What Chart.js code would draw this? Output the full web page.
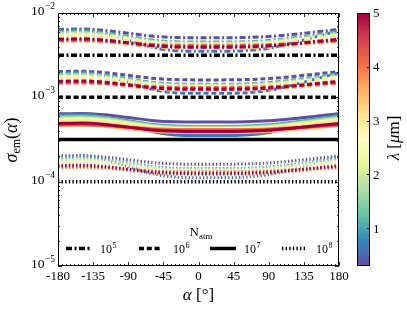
<!DOCTYPE html>
<html><head><meta charset="utf-8">
<script src="https://cdn.jsdelivr.net/npm/chart.js@4"></script>
<style>html,body{margin:0;padding:0;background:#fff}#wrap{width:407px;height:310px;position:relative}</style>
</head><body><div id="wrap"><canvas id="c" width="407" height="310"></canvas></div>
<script>
// ---- data ----
const alphaDeg = [-180,-150,-120,-90,-60,-30,0,30,60,90,120,150,180];
const wavelengths = [0.3,0.6,1.0,1.5,2.0,2.5,3.0,3.5,4.0,4.5,5.0];
const nAtmExponents = [5,6,7,8];
const refLevel = [3.16e-3, 1e-3, 3.16e-4, 1e-4];   // black reference lines, one per N_atm
// excess of sigma_em over the reference line, in decades, one array per wavelength
const excess03 = [.305,.310,.293,.261,.227,.210,.207,.207,.210,.222,.246,.276,.305];
const excess06 = [.290,.302,.261,.181,.096,.054,.047,.047,.054,.083,.144,.217,.290];
const excess10 = [.280,.286,.265,.224,.180,.159,.155,.155,.159,.174,.205,.243,.280];
const excess15 = [.265,.271,.251,.211,.169,.149,.145,.145,.149,.163,.193,.229,.265];
const excess20 = [.250,.256,.237,.200,.160,.141,.138,.138,.141,.155,.183,.216,.250];
const excess25 = [.235,.240,.222,.188,.151,.133,.130,.130,.133,.146,.172,.204,.235];
const excess30 = [.220,.225,.209,.177,.144,.128,.125,.125,.128,.139,.163,.192,.220];
const excess35 = [.165,.169,.155,.128,.099,.085,.083,.083,.085,.095,.116,.140,.165];
const excess40 = [.170,.173,.164,.147,.128,.120,.118,.118,.120,.126,.139,.154,.170];
const excess45 = [.180,.184,.171,.146,.120,.107,.105,.105,.107,.116,.135,.158,.180];
const excess50 = [.190,.195,.179,.147,.114,.098,.095,.095,.098,.109,.133,.162,.190];
const excessByWavelength = [excess03,excess06,excess10,excess15,excess20,excess25,excess30,excess35,excess40,excess45,excess50];
const xTickValues = [-180,-135,-90,-45,0,45,90,135,180];
const yTickExponents = [-2,-3,-4,-5];
const cbarTicks = [1,2,3,4,5];
const cbarMin = 0.3, cbarMax = 5.0;

// ---- styles ----
const FONT = "'Liberation Serif','DejaVu Serif',serif";
const dashStyles = [[6,2.5,2,2.5],[5,2.8],[],[1.4,2.2]];
const spectralR = ['#5e4fa2','#3288bd','#66c2a5','#abdda4','#e6f598','#ffffbf','#fee08b','#fdae61','#f46d43','#d53e4f','#9e0142'];
function hex(h){return [1,3,5].map(i=>parseInt(h.substr(i,2),16));}
function cmap(v){
  let t=(v-cbarMin)/(cbarMax-cbarMin); t=Math.max(0,Math.min(1,t));
  const p=t*(spectralR.length-1), i=Math.min(Math.floor(p),spectralR.length-2), f=p-i;
  const a=hex(spectralR[i]), b=hex(spectralR[i+1]);
  return 'rgb('+a.map((c,k)=>Math.round(c+(b[k]-c)*f)).join(',')+')';
}

const datasets=[];
refLevel.forEach((ref,g)=>{
  excessByWavelength.forEach((ex,w)=>{
    datasets.push({
      data: alphaDeg.map((a,i)=>({x:a,y:ref*Math.pow(10,ex[i])})),
      borderColor: cmap(wavelengths[w]), borderWidth:3, borderDash:dashStyles[g],
      borderCapStyle:'butt', pointRadius:0, cubicInterpolationMode:'monotone', fill:false, order:50-w
    });
  });
  datasets.push({
    data: [{x:-180,y:ref},{x:180,y:ref}],
    borderColor:'#000', borderWidth:3.5, borderDash:dashStyles[g], borderCapStyle:'butt',
    pointRadius:0, fill:false, order:100
  });
});

function drawPow(ctx,xRight,yBase,base,exp,fs,es,rise){
  ctx.textAlign='left';ctx.textBaseline='alphabetic';
  ctx.font=es+'px '+FONT; const we=ctx.measureText(exp).width;
  ctx.font=fs+'px '+FONT; const wb=ctx.measureText(base).width;
  ctx.fillText(base,xRight-we-wb-0.5,yBase);
  ctx.font=es+'px '+FONT; ctx.fillText(exp,xRight-we,yBase-rise);
}
function drawPowLeft(ctx,x,yBase,base,exp,fs,es,rise){
  ctx.textAlign='left';ctx.textBaseline='alphabetic';
  ctx.font=fs+'px '+FONT; const wb=ctx.measureText(base).width;
  ctx.fillText(base,x,yBase);
  ctx.font=es+'px '+FONT; ctx.fillText(exp,x+wb+0.5,yBase-rise);
}
function runs(ctx,parts){ // parts: [text,font,dy]
  let w=0; parts.forEach(p=>{ctx.font=p[1];w+=ctx.measureText(p[0]).width;}); return w;
}
function drawRuns(ctx,x,y,parts){
  parts.forEach(p=>{ctx.font=p[1];ctx.fillText(p[0],x,y+(p[2]||0));x+=ctx.measureText(p[0]).width;});
}

const decor={
  id:'decor',
  afterDraw(chart){
    const ctx=chart.ctx,a=chart.chartArea,xs=chart.scales.x,ys=chart.scales.y;
    ctx.save();
    ctx.fillStyle='#000';ctx.strokeStyle='#000';
    // frame
    ctx.lineWidth=1;
    ctx.strokeRect(a.left+0.5,a.top+0.5,a.right-a.left-1,a.bottom-a.top-1);
    ctx.lineWidth=0.8;
    ctx.beginPath();
    for(let v=-180;v<=180;v+=5){
      const x=Math.round(xs.getPixelForValue(v))+0.5, L=(v%45===0)?4:2;
      ctx.moveTo(x,a.bottom);ctx.lineTo(x,a.bottom-L);
      ctx.moveTo(x,a.top);ctx.lineTo(x,a.top+L);
    }
    for(let e=-5;e<=-2;e++){
      for(let m=1;m<=9;m++){
        const v=m*Math.pow(10,e); if(v>1.0001e-2)break;
        const y=Math.round(ys.getPixelForValue(v))+0.5, L=(m===1)?4:2;
        ctx.moveTo(a.left,y);ctx.lineTo(a.left+L,y);
        ctx.moveTo(a.right,y);ctx.lineTo(a.right-L,y);
      }
    }
    ctx.stroke();
    // x tick labels
    ctx.font='13px '+FONT;ctx.textAlign='center';ctx.textBaseline='alphabetic';
    xTickValues.forEach(v=>{ctx.fillText(String(v),xs.getPixelForValue(v),280);});
    // y tick labels
    yTickExponents.forEach(e=>{
      const y=ys.getPixelForValue(Math.pow(10,e));
      drawPow(ctx,55,y+2,'10','\u2212'+Math.abs(e),13.5,9.5,6);
    });
    // x title
    ctx.textAlign='left';
    const xt=[['\u03b1','italic 17px '+FONT,0],[' [\u00b0]','17px '+FONT,0]];
    drawRuns(ctx,(a.left+a.right)/2-runs(ctx,xt)/2,300,xt);
    // y title
    ctx.save();ctx.translate(17,140);ctx.rotate(-Math.PI/2);
    const yt=[['\u03c3','italic 18px '+FONT,0],['em','12px '+FONT,3],['(','18px '+FONT,0],['\u03b1','italic 18px '+FONT,0],[')','18px '+FONT,0]];
    drawRuns(ctx,-runs(ctx,yt)/2,0,yt);
    ctx.restore();
    // legend
    ctx.textAlign='left';
    const lt=[['N','13px '+FONT,0],['atm','9px '+FONT,2.5]];
    drawRuns(ctx,201-runs(ctx,lt)/2,236,lt);
    const legX=[[66,91,100],[139,161,173],[210,236,244],[282,305,316]];
    nAtmExponents.forEach((n,g)=>{
      const L=legX[g];
      ctx.save();ctx.lineWidth=3.5;ctx.lineCap='butt';ctx.setLineDash(dashStyles[g]);
      ctx.beginPath();ctx.moveTo(L[0],248.5);ctx.lineTo(L[1],248.5);ctx.stroke();ctx.restore();
      drawPowLeft(ctx,L[2],253,'10',String(n),12,8,5);
    });
    // colorbar
    const cx0=357,cx1=370,cy0=a.top,cy1=a.bottom;
    const grad=ctx.createLinearGradient(0,cy1,0,cy0);
    spectralR.forEach((c,i)=>grad.addColorStop(i/(spectralR.length-1),c));
    ctx.fillStyle=grad;ctx.fillRect(cx0,cy0,cx1-cx0,cy1-cy0);
    ctx.lineWidth=1;ctx.strokeStyle='#000';ctx.strokeRect(cx0+0.5,cy0+0.5,cx1-cx0-1,cy1-cy0-1);
    ctx.fillStyle='#000';ctx.font='13px '+FONT;ctx.textAlign='left';ctx.textBaseline='middle';
    cbarTicks.forEach(v=>{
      const y=cy1-(v-cbarMin)/(cbarMax-cbarMin)*(cy1-cy0);
      ctx.beginPath();ctx.moveTo(cx1,Math.round(y)+0.5);ctx.lineTo(cx1-3,Math.round(y)+0.5);ctx.stroke();
      ctx.fillText(String(v),373,y+1);
    });
    ctx.textBaseline='alphabetic';
    ctx.save();ctx.translate(399,138);ctx.rotate(-Math.PI/2);
    const ct=[['\u03bb','italic 17px '+FONT,0],[' [','17px '+FONT,0],['\u03bc','italic 17px '+FONT,0],['m]','17px '+FONT,0]];
    drawRuns(ctx,-runs(ctx,ct)/2,0,ct);
    ctx.restore();
    ctx.restore();
  }
};

new Chart(document.getElementById('c'),{
  type:'line',
  data:{datasets},
  options:{
    responsive:false,devicePixelRatio:1,animation:false,
    layout:{padding:{top:13,right:68,left:0,bottom:0}},
    plugins:{legend:{display:false},tooltip:{enabled:false}},
    scales:{
      x:{type:'linear',min:-180,max:180,ticks:{display:false},grid:{display:false},border:{display:false},
         afterFit(s){s.height=44;}},
      y:{type:'logarithmic',min:1e-5,max:1e-2,ticks:{display:false},grid:{display:false},border:{display:false},
         afterFit(s){s.width=58;}}
    }
  },
  plugins:[decor]
});
</script></body></html>
